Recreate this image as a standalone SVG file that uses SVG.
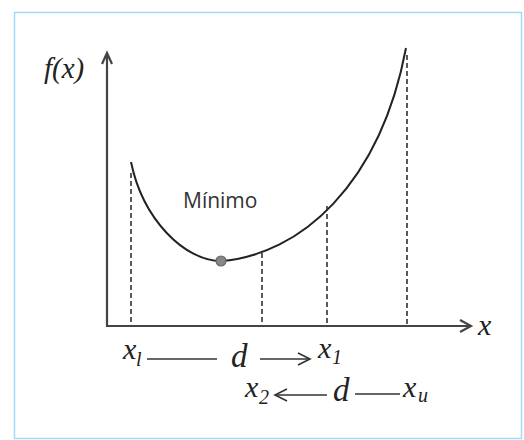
<svg xmlns="http://www.w3.org/2000/svg" width="524" height="440" viewBox="0 0 524 440">
<style>
.axis{stroke:#444;stroke-width:2.2;fill:none}
.curve{stroke:#222;stroke-width:2;fill:none}
.dash{stroke:#333;stroke-width:1.6;stroke-dasharray:5,3;fill:none}
.conn{stroke:#333;stroke-width:1.4;fill:none}
.m{font-family:'Liberation Serif','DejaVu Serif',serif;font-style:italic;fill:#222}
.big{font-size:30px}
.dd{font-size:33px}
.sub{font-size:20px}
.lbl{font-family:'Open Sans','Liberation Sans',sans-serif;font-size:21px;fill:#333}
</style>
<defs>
<marker id="arr" markerUnits="userSpaceOnUse" markerWidth="20" markerHeight="20" refX="0" refY="0" orient="auto" overflow="visible">
<path d="M-12,-6 L0,0 L-12,6" fill="none" stroke="#333" stroke-width="1.6"/>
</marker>
</defs>
<rect x="14.5" y="12.5" width="507" height="426" fill="#fff" stroke="#a6d9f5" stroke-width="1.5"/>
<g id="axes">
<path class="axis" d="M107,327 V53 M102,64 L107,53 L112,64"/>
<path class="axis" d="M106,326 H471 M460,320 L471,326 L460,332"/>
<text class="m big" x="478" y="335" font-family="Liberation Serif, serif">x</text>
<text class="m" x="44" y="78" font-size="29" font-family="Liberation Serif, serif">f(x)</text>
</g>
<g id="curve">
<path class="curve" d="M131,162 C143,220 185,261 221,261 C300,255 380,185 406,48"/>
</g>
<g id="guides">
<path class="dash" d="M131,173 V326"/>
<path class="dash" d="M262,253 V326"/>
<path class="dash" d="M327,206 V326"/>
<path class="dash" d="M407,55 V326"/>
</g>
<g id="minimo">
<circle cx="221" cy="261" r="5" fill="#888" stroke="#666" stroke-width="1.2"/>
<text class="lbl" x="183" y="208">Mínimo</text>
</g>
<g id="row1">
<text class="m big" x="123" y="359">x</text>
<text class="m sub" x="136" y="366">l</text>
<text class="m dd" x="231" y="367">d</text>
<text class="m big" x="318" y="358">x</text>
<text class="m sub" x="332" y="364">1</text>
</g>
<g id="row2">
<text class="m big" x="245" y="397">x</text>
<text class="m sub" x="259" y="404">2</text>
<text class="m dd" x="333" y="401">d</text>
<text class="m big" x="403" y="397">x</text>
<text class="m sub" x="418" y="402">u</text>
</g>
<g id="connectors">
<path class="conn" d="M147,359 H217"/>
<path class="conn" d="M260,359 H310" marker-end="url(#arr)"/>
<path class="conn" d="M327,395 H275" marker-end="url(#arr)"/>
<path class="conn" d="M355,394 H400"/>
</g>
</svg>
